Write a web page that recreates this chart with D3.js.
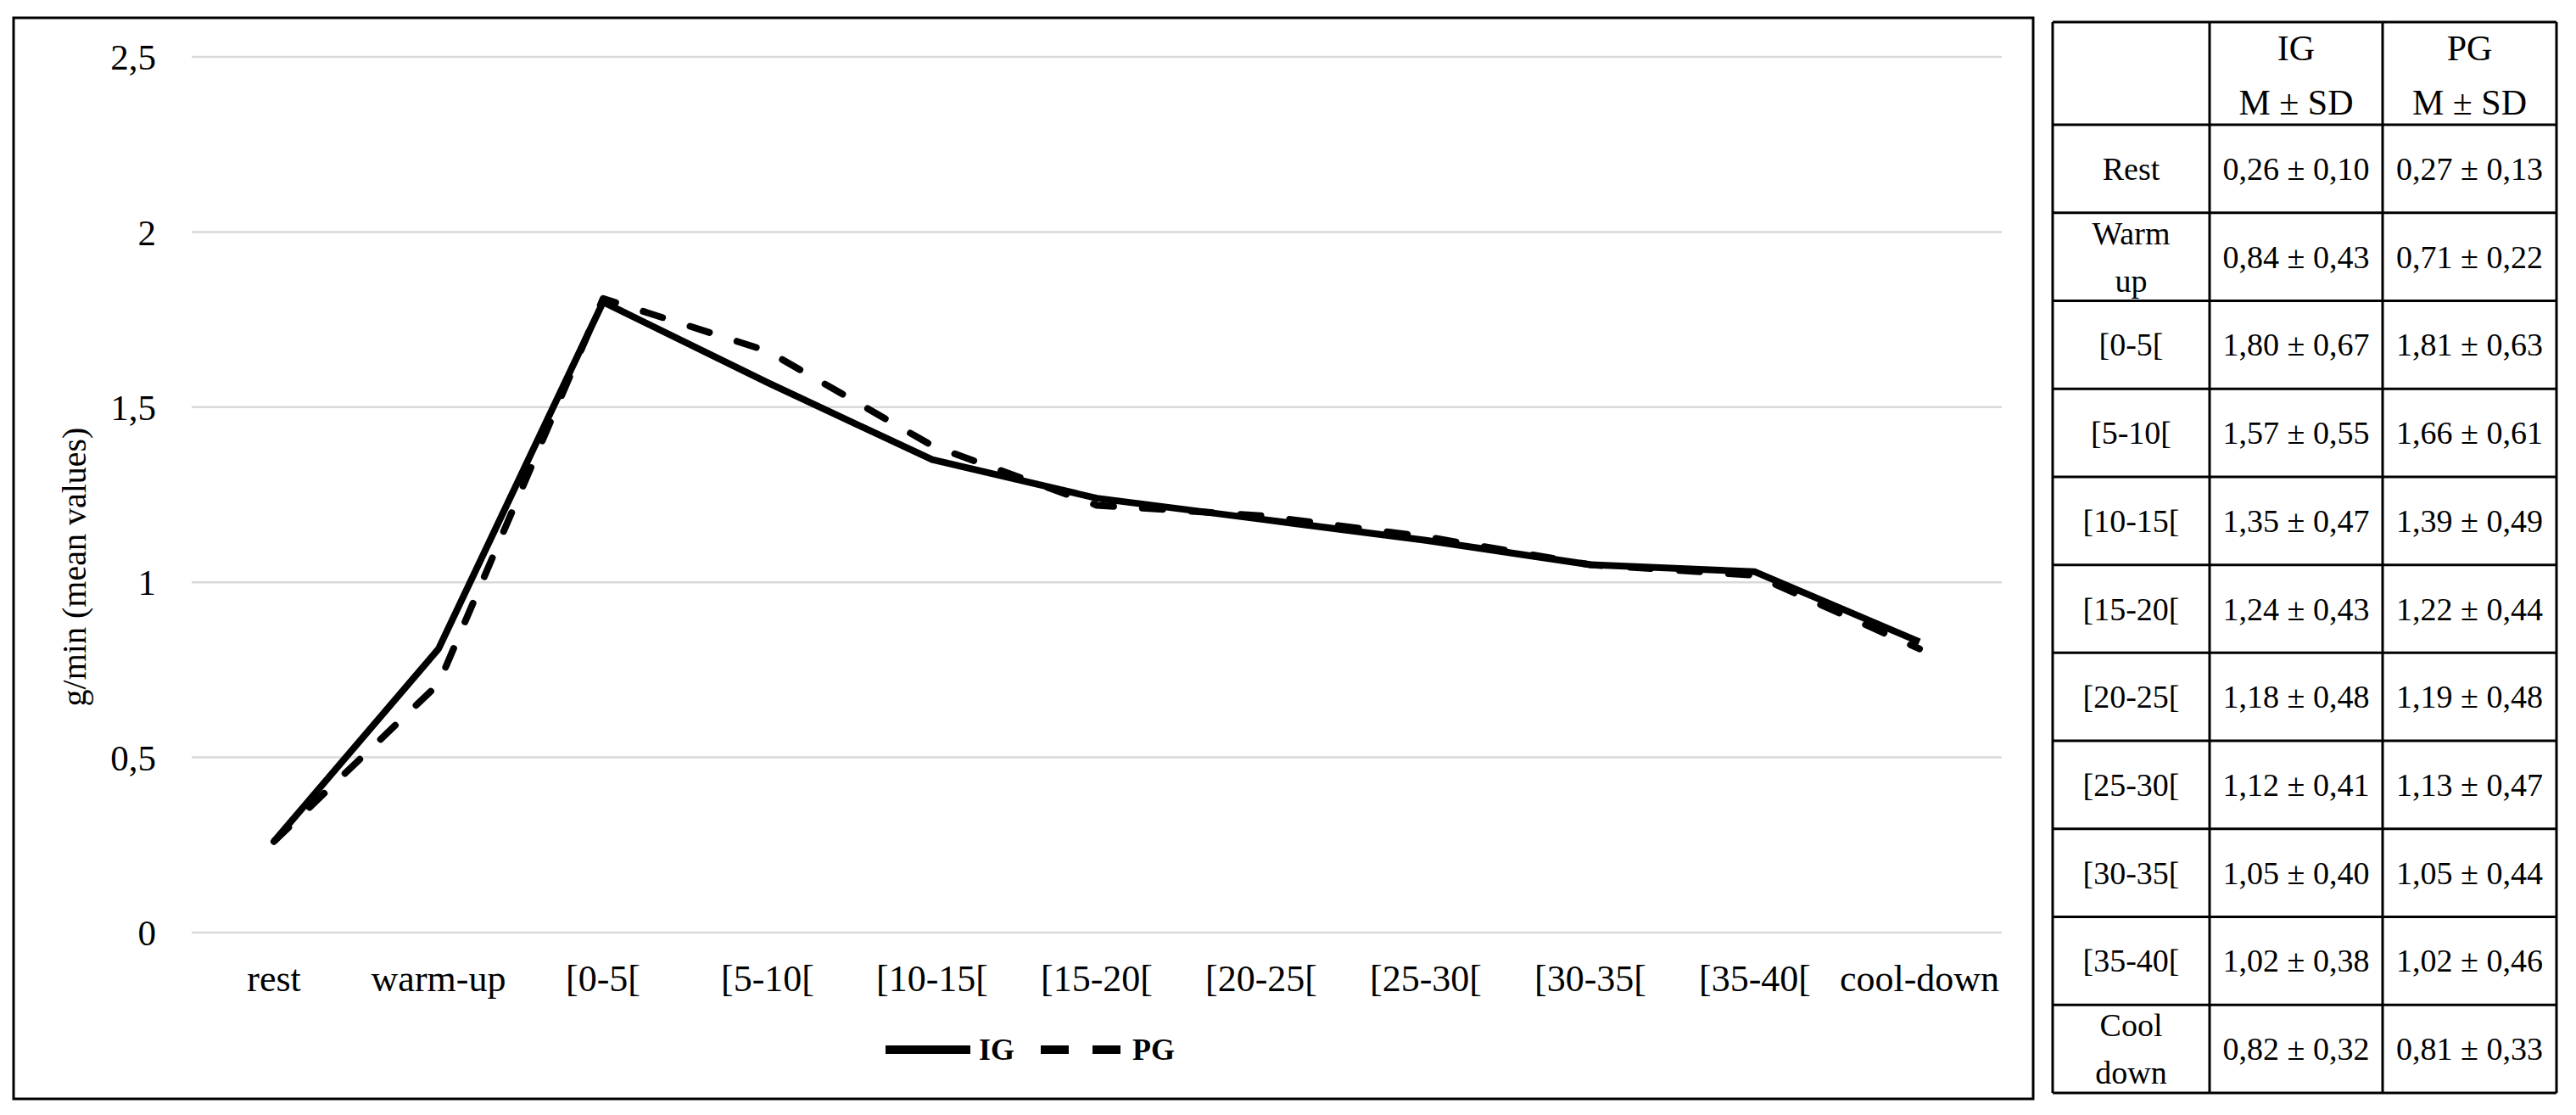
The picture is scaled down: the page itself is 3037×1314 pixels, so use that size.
<!DOCTYPE html>
<html>
<head>
<meta charset="utf-8">
<script src="https://cdn.jsdelivr.net/npm/d3@7"></script>
<style>
  body { margin: 0; background: #fff; }
  text { font-family: "Liberation Serif", "DejaVu Serif", serif; fill: #000; }
</style>
</head>
<body>
<div id="chart"></div>
<script>
// categories on the x axis
const phases = ["rest", "warm-up", "[0-5[", "[5-10[", "[10-15[", "[15-20[", "[20-25[", "[25-30[", "[30-35[", "[35-40[", "cool-down"];
// plotted means
const igLine = [0.26, 0.81, 1.80, 1.57, 1.35, 1.24, 1.18, 1.12, 1.05, 1.03, 0.83];
const pgLine = [0.26, 0.71, 1.81, 1.66, 1.39, 1.22, 1.19, 1.13, 1.05, 1.02, 0.81];
const yTicks = [0, 0.5, 1, 1.5, 2, 2.5];

// side table
const rowLabels = [["Rest"], ["Warm", "up"], ["[0-5["], ["[5-10["], ["[10-15["], ["[15-20["], ["[20-25["], ["[25-30["], ["[30-35["], ["[35-40["], ["Cool", "down"]];
const igMean = ["0,26", "0,84", "1,80", "1,57", "1,35", "1,24", "1,18", "1,12", "1,05", "1,02", "0,82"];
const igSD = ["0,10", "0,43", "0,67", "0,55", "0,47", "0,43", "0,48", "0,41", "0,40", "0,38", "0,32"];
const pgMean = ["0,27", "0,71", "1,81", "1,66", "1,39", "1,22", "1,19", "1,13", "1,05", "1,02", "0,81"];
const pgSD = ["0,13", "0,22", "0,63", "0,61", "0,49", "0,44", "0,48", "0,47", "0,44", "0,46", "0,33"];

const width = 3037;
const height = 1314;

const svg = d3.select("#chart").append("svg")
  .attr("width", width).attr("height", height)
  .style("display", "block");

svg.append("rect").attr("width", width).attr("height", height).attr("fill", "#fff");

// chart frame
svg.append("rect")
  .attr("x", 16).attr("y", 21).attr("width", 2381).attr("height", 1274)
  .attr("fill", "none").attr("stroke", "#000").attr("stroke-width", 3);

const x = d3.scaleBand().domain(phases).range([226, 2360]);
const y = d3.scaleLinear().domain([0, 2.5]).range([1099, 67]);

// gridlines
svg.append("g")
  .selectAll("line")
  .data(yTicks)
  .join("line")
  .attr("x1", x.range()[0]).attr("x2", x.range()[1])
  .attr("y1", d => y(d)).attr("y2", d => y(d))
  .attr("stroke", "#d9d9d9").attr("stroke-width", 2.5);

// y axis
const fmt = d => String(d).replace(".", ",");
const yAxis = svg.append("g")
  .attr("transform", "translate(184,0)")
  .call(d3.axisLeft(y).tickValues(yTicks).tickFormat(fmt).tickSize(0).tickPadding(0));
yAxis.select(".domain").remove();
yAxis.selectAll("text")
  .attr("font-size", 43).attr("dy", "0.34em")
  .style("font-family", "Liberation Serif, serif");

// x axis
const xAxis = svg.append("g")
  .attr("transform", "translate(0,1099)")
  .call(d3.axisBottom(x).tickSize(0).tickPadding(0));
xAxis.select(".domain").remove();
xAxis.selectAll("text")
  .attr("font-size", 44).attr("y", 69).attr("dy", 0)
  .style("font-family", "Liberation Serif, serif");

// y title
svg.append("text")
  .attr("transform", "translate(101,668) rotate(-90)")
  .attr("text-anchor", "middle")
  .attr("font-size", 40)
  .text("g/min (mean values)");

// lines
const line = d3.line()
  .x((d, i) => x(phases[i]) + x.bandwidth() / 2)
  .y(d => y(d));

svg.append("path")
  .datum(pgLine)
  .attr("d", line)
  .attr("fill", "none").attr("stroke", "#000").attr("stroke-width", 8)
  .attr("stroke-dasharray", "24,34").attr("stroke-linecap", "round").attr("stroke-linejoin", "round");

svg.append("path")
  .datum(igLine)
  .attr("d", line)
  .attr("fill", "none").attr("stroke", "#000").attr("stroke-width", 8)
  .attr("stroke-linejoin", "round");

// legend
const legend = svg.append("g");
legend.append("line")
  .attr("x1", 1044).attr("x2", 1144).attr("y1", 1237).attr("y2", 1237)
  .attr("stroke", "#000").attr("stroke-width", 10);
legend.append("text").attr("x", 1154).attr("y", 1249)
  .attr("font-size", 36).attr("font-weight", "bold").text("IG");
legend.append("line")
  .attr("x1", 1227).attr("x2", 1321).attr("y1", 1237).attr("y2", 1237)
  .attr("stroke", "#000").attr("stroke-width", 10)
  .attr("stroke-dasharray", "33,28");
legend.append("text").attr("x", 1335).attr("y", 1249)
  .attr("font-size", 36).attr("font-weight", "bold").text("PG");

// table
const colX = [2420, 2605, 2809, 3014];
const headTop = 26, headBottom = 147, tableBottom = 1288;
const rowY = d3.scaleBand().domain(d3.range(rowLabels.length)).range([headBottom, tableBottom]);

const table = svg.append("g");
const colCenter = i => (colX[i] + colX[i + 1]) / 2;

// header
[["IG", "M ± SD"], ["PG", "M ± SD"]].forEach((h, i) => {
  table.append("text").attr("x", colCenter(i + 1)).attr("y", 71)
    .attr("text-anchor", "middle").attr("font-size", 42).text(h[0]);
  table.append("text").attr("x", colCenter(i + 1)).attr("y", 135)
    .attr("text-anchor", "middle").attr("font-size", 42).text(h[1]);
});

rowLabels.forEach((lab, i) => {
  const cy = rowY(i) + rowY.bandwidth() / 2;
  const t = table.append("text").attr("text-anchor", "middle").attr("font-size", 38);
  if (lab.length === 1) {
    t.append("tspan").attr("x", colCenter(0)).attr("y", cy + 13).text(lab[0]);
  } else {
    t.append("tspan").attr("x", colCenter(0)).attr("y", cy - 15).text(lab[0]);
    t.append("tspan").attr("x", colCenter(0)).attr("y", cy + 41).text(lab[1]);
  }
  table.append("text").attr("x", colCenter(1)).attr("y", cy + 13)
    .attr("text-anchor", "middle").attr("font-size", 38)
    .text(igMean[i] + " ± " + igSD[i]);
  table.append("text").attr("x", colCenter(2)).attr("y", cy + 13)
    .attr("text-anchor", "middle").attr("font-size", 38)
    .text(pgMean[i] + " ± " + pgSD[i]);
});

// table rules
const hLines = [headTop, headBottom].concat(d3.range(1, rowLabels.length).map(i => rowY(i)), [tableBottom]);
table.selectAll("line.h").data(hLines).join("line")
  .attr("x1", colX[0]).attr("x2", colX[3])
  .attr("y1", d => d).attr("y2", d => d)
  .attr("stroke", "#000").attr("stroke-width", 3);
table.selectAll("line.v").data(colX).join("line")
  .attr("x1", d => d).attr("x2", d => d)
  .attr("y1", headTop).attr("y2", tableBottom)
  .attr("stroke", "#000").attr("stroke-width", 3);
</script>
</body>
</html>
